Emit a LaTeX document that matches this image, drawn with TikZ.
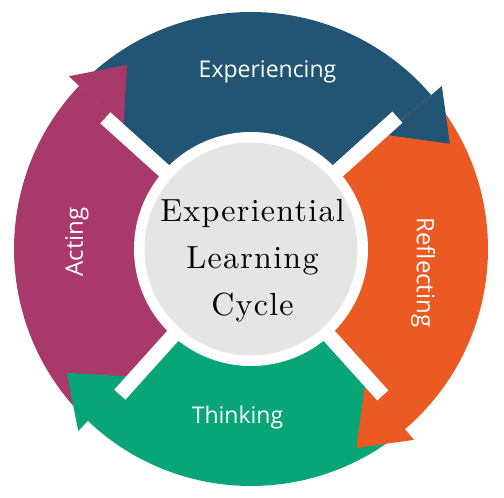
\documentclass[tikz,border=0pt]{standalone}
\usepackage{fontspec}
\newfontfamily\phasefont{Open Sans}
\newfontfamily\hubfont{lmroman10-regular.otf}[LetterSpace=4]
\definecolor{expblue}{HTML}{215573}
\definecolor{refmango}{HTML}{EC5A24}
\definecolor{thinkgreen}{HTML}{08A578}
\definecolor{actplum}{HTML}{A8396A}
\definecolor{hubgrey}{HTML}{E6E5E6}

\begin{document}
\begin{tikzpicture}[
  phase/.style={text=white, inner sep=0pt, anchor=base,
    font=\phasefont\fontsize{23}{28}\selectfont},
  sidephase/.style={phase, font=\phasefont\fontsize{24}{29}\selectfont},
  spoke/.style={draw=white, line width=15pt}
]
  \useasboundingbox (-251pt,-249pt) rectangle (253pt,249pt);

  % ring bands
  \fill[expblue] (136.5:237pt) arc[start angle=136.5, end angle=40.5, radius=237pt]
    -- (40.5:100pt) arc[start angle=40.5, end angle=136.5, radius=100pt] -- cycle;
  \fill[refmango] (40.5:237pt) arc[start angle=40.5, end angle=-49.5, radius=237pt]
    -- (-49.5:100pt) arc[start angle=-49.5, end angle=40.5, radius=100pt] -- cycle;
  \fill[thinkgreen] (-49.5:237pt) arc[start angle=-49.5, end angle=-133.5, radius=237pt]
    -- (-133.5:100pt) arc[start angle=-133.5, end angle=-49.5, radius=100pt] -- cycle;
  \fill[actplum] (226.5:237pt) arc[start angle=226.5, end angle=136.5, radius=237pt]
    -- (136.5:100pt) arc[start angle=136.5, end angle=226.5, radius=100pt] -- cycle;

  % arrow heads
  \fill[expblue] (40.5:176pt) -- (40.5:251pt) -- (27.9:225pt) -- cycle;
  \fill[refmango] (-49.5:176pt) -- (-49.5:251pt) -- (-62.1:225pt) -- cycle;
  \fill[thinkgreen] (226.5:176pt) -- (226.5:251pt) -- (213.9:222pt) -- cycle;
  \fill[actplum] (136.5:176pt) -- (136.5:251pt) -- (123.9:222pt) -- cycle;

  % white spokes and hub
  \draw[spoke] (42:100pt) -- (42:197pt);
  \draw[spoke] (-48:100pt) -- (-48:197pt);
  \draw[spoke] (228:100pt) -- (228:196pt);
  \draw[spoke] (138:100pt) -- (138:196pt);
  \fill[white] (0,0) circle[radius=117pt];
  \fill[hubgrey] (0,0) circle[radius=106.5pt];

  \node[align=center, inner sep=0pt, font=\hubfont\fontsize{32}{47}\selectfont] (hub)
    at (1.5pt,-11.4pt) {Experiential\\Learning\\Cycle};
  \node[phase] (experiencing) at (16.5pt,171pt) {Experiencing};
  \node[sidephase, rotate=-90] (reflecting) at (166pt,-23.5pt) {Reflecting};
  \node[phase] (thinking) at (-13.5pt,-174pt) {Thinking};
  \node[sidephase, rotate=90] (acting) at (-168pt,7pt) {Acting};
\end{tikzpicture}
\end{document}
